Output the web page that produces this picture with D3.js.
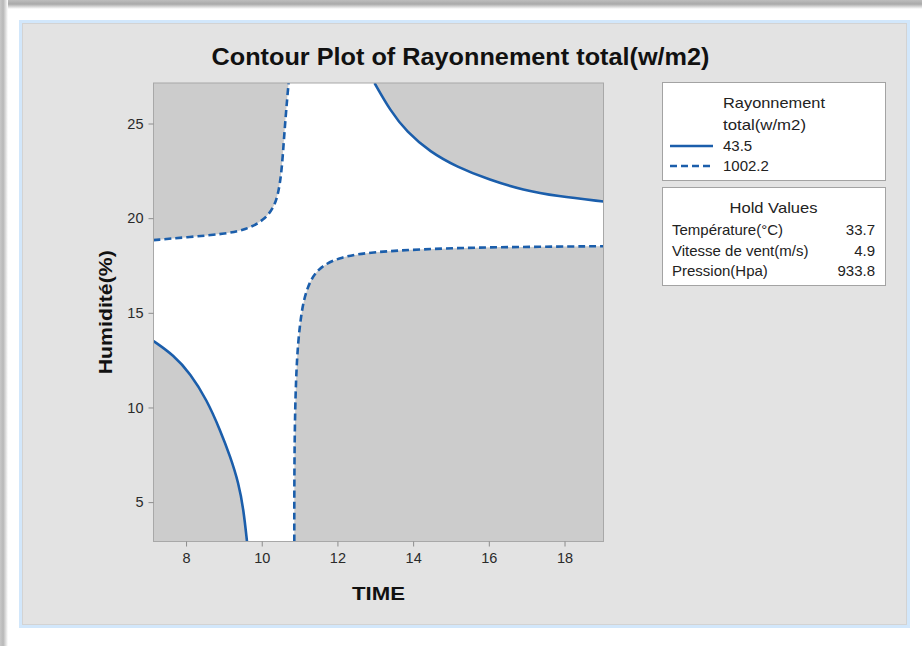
<!DOCTYPE html>
<html>
<head>
<meta charset="utf-8">
<script src="https://cdn.jsdelivr.net/npm/d3@7"></script>
<style>
  html, body { margin: 0; padding: 0; background: #ffffff; }
  svg { display: block; }
  text { font-family: "Liberation Sans", Arial, sans-serif; }
</style>
</head>
<body>
<svg id="chart" width="922" height="646"></svg>
<script>
// ---- data ----
const xTicks = [8, 10, 12, 14, 16, 18];
const yTicks = [5, 10, 15, 20, 25];
const xRange = [7.14, 19.03];   // TIME extent of the design region
const yRange = [2.92, 27.14];   // Humidité extent of the design region

const levels = ["43.5", "1002.2"];

// contour 43.5 (two branches)
const low43BottomLeft = [[7.14, 13.51], [7.67, 12.77], [8.11, 11.80], [8.55, 10.40], [8.90, 8.81],
  [9.17, 7.40], [9.39, 6.00], [9.52, 4.59], [9.61, 2.92]];
const low43TopRight = [[12.98, 27.14], [13.39, 25.70], [13.83, 24.55], [14.45, 23.50], [15.15, 22.71],
  [16.03, 22.01], [16.91, 21.48], [17.80, 21.16], [19.03, 20.88]];

// contour 1002.2 (two branches)
const high1002TopLeft = [[7.14, 18.84], [8.11, 19.01], [9.00, 19.16], [9.61, 19.40], [10.05, 19.89],
  [10.31, 20.51], [10.44, 21.30], [10.53, 22.53], [10.59, 24.29], [10.66, 26.05], [10.71, 27.14]];
const high1002BottomRight = [[10.86, 2.92], [10.86, 6.53], [10.88, 10.04], [10.93, 12.68], [11.00, 14.26],
  [11.10, 15.67], [11.28, 16.73], [11.54, 17.43], [12.07, 17.96], [12.95, 18.22], [14.27, 18.36],
  [15.59, 18.45], [17.35, 18.49], [19.03, 18.52]];

const holdNames = ["Température(°C)", "Vitesse de vent(m/s)", "Pression(Hpa)"];
const holdValues = ["33.7", "4.9", "933.8"];

// ---- layout ----
const svg = d3.select("#chart");
const plot = { left: 153.5, top: 83, right: 603.5, bottom: 541.5 };
const blue = "#1b5eab";
const shade = "#cccccc";

// window shadow on top and left edges
const defs = svg.append("defs");
const gTop = defs.append("linearGradient").attr("id", "shTop").attr("x1", 0).attr("y1", 0).attr("x2", 0).attr("y2", 1);
gTop.append("stop").attr("offset", "0%").attr("stop-color", "#bdbdbd");
gTop.append("stop").attr("offset", "45%").attr("stop-color", "#a9a9a9");
gTop.append("stop").attr("offset", "100%").attr("stop-color", "#ffffff");
const gLeft = defs.append("linearGradient").attr("id", "shLeft").attr("x1", 0).attr("y1", 0).attr("x2", 1).attr("y2", 0);
gLeft.append("stop").attr("offset", "0%").attr("stop-color", "#c8c8c8");
gLeft.append("stop").attr("offset", "40%").attr("stop-color", "#b8b8b8");
gLeft.append("stop").attr("offset", "100%").attr("stop-color", "#ffffff");
svg.append("rect").attr("x", 0).attr("y", 0).attr("width", 922).attr("height", 9).attr("fill", "url(#shTop)");
svg.append("rect").attr("x", 0).attr("y", 0).attr("width", 8).attr("height", 646).attr("fill", "url(#shLeft)");

// panel with light blue frame
svg.append("rect").attr("x", 20.5).attr("y", 21.5).attr("width", 888).attr("height", 605)
  .attr("fill", "none").attr("stroke", "#d2e7fb").attr("stroke-width", 3);
svg.append("rect").attr("x", 22.5).attr("y", 23.5).attr("width", 884).attr("height", 601)
  .attr("fill", "#e3e3e3").attr("stroke", "#d3d3d3").attr("stroke-width", 1);

// ---- scales ----
const x = d3.scaleLinear().domain(xRange).range([plot.left, plot.right]);
const y = d3.scaleLinear().domain(yRange).range([plot.bottom, plot.top]);

defs.append("clipPath").attr("id", "plotClip").append("rect")
  .attr("x", plot.left).attr("y", plot.top)
  .attr("width", plot.right - plot.left).attr("height", plot.bottom - plot.top);

const g = svg.append("g").attr("clip-path", "url(#plotClip)");
g.append("rect").attr("x", plot.left).attr("y", plot.top)
  .attr("width", plot.right - plot.left).attr("height", plot.bottom - plot.top)
  .attr("fill", "#ffffff");

const line = d3.line().x(d => x(d[0])).y(d => y(d[1])).curve(d3.curveBasis);

// shaded regions: each contour branch closed off through its plot corner
const regions = [
  { pts: low43BottomLeft, corner: [xRange[0], yRange[0]] },
  { pts: low43TopRight, corner: [xRange[1], yRange[1]] },
  { pts: high1002TopLeft, corner: [xRange[0], yRange[1]] },
  { pts: high1002BottomRight, corner: [xRange[1], yRange[0]] }
];
g.selectAll("path.region").data(regions).join("path")
  .attr("class", "region")
  .attr("d", r => line(r.pts) + "L" + x(r.corner[0]) + "," + y(r.corner[1]) + "Z")
  .attr("fill", shade);

const branches = [
  { pts: low43BottomLeft, dash: null },
  { pts: low43TopRight, dash: null },
  { pts: high1002TopLeft, dash: "7,4" },
  { pts: high1002BottomRight, dash: "7,4" }
];
g.selectAll("path.contour").data(branches).join("path")
  .attr("class", "contour")
  .attr("d", b => line(b.pts))
  .attr("fill", "none")
  .attr("stroke", blue)
  .attr("stroke-width", 2.6)
  .attr("stroke-dasharray", b => b.dash);

// plot frame
svg.append("rect").attr("x", plot.left).attr("y", plot.top)
  .attr("width", plot.right - plot.left).attr("height", plot.bottom - plot.top)
  .attr("fill", "none").attr("stroke", "#a8a8a8").attr("stroke-width", 1);

// ---- axes ----
const xAxis = svg.append("g").attr("transform", `translate(0,${plot.bottom})`)
  .call(d3.axisBottom(x).tickValues(xTicks).tickSize(5).tickPadding(6).tickFormat(d3.format("d")));
const yAxis = svg.append("g").attr("transform", `translate(${plot.left},0)`)
  .call(d3.axisLeft(y).tickValues(yTicks).tickSize(5).tickPadding(5).tickFormat(d3.format("d")));
[xAxis, yAxis].forEach(a => {
  a.select(".domain").remove();
  a.selectAll(".tick line").attr("stroke", "#8c8c8c");
  a.selectAll(".tick text").attr("fill", "#2a2a2a")
    .style("font-size", "14.5px").style("font-family", "'Liberation Sans', Arial, sans-serif");
});

// ---- titles ----
svg.append("text").attr("x", 460.5).attr("y", 64.5).attr("text-anchor", "middle")
  .attr("textLength", 498).attr("lengthAdjust", "spacingAndGlyphs")
  .style("font-size", "23.5px").style("font-weight", "bold").attr("fill", "#111")
  .text("Contour Plot of Rayonnement total(w/m2)");

svg.append("text").attr("x", (plot.left + plot.right) / 2).attr("y", 600)
  .attr("text-anchor", "middle")
  .attr("textLength", 53).attr("lengthAdjust", "spacingAndGlyphs")
  .style("font-size", "18.5px").style("font-weight", "bold").attr("fill", "#111")
  .text("TIME");

svg.append("text")
  .attr("transform", `translate(112,${(plot.top + plot.bottom) / 2}) rotate(-90)`)
  .attr("text-anchor", "middle")
  .attr("textLength", 124).attr("lengthAdjust", "spacingAndGlyphs")
  .style("font-size", "17.5px").style("font-weight", "bold").attr("fill", "#111")
  .text("Humidité(%)");

// ---- legend: contour levels ----
const lg = svg.append("g");
lg.append("rect").attr("x", 662.5).attr("y", 82.5).attr("width", 223).attr("height", 98)
  .attr("fill", "#ffffff").attr("stroke", "#a3a3a3");
const legendFont = "15px";
lg.append("text").attr("x", 723).attr("y", 108).style("font-size", legendFont).attr("fill", "#222")
  .attr("textLength", 102).attr("lengthAdjust", "spacingAndGlyphs").text("Rayonnement");
lg.append("text").attr("x", 723).attr("y", 130).style("font-size", legendFont).attr("fill", "#222")
  .attr("textLength", 83).attr("lengthAdjust", "spacingAndGlyphs").text("total(w/m2)");
levels.forEach((lv, i) => {
  const cy = 146 + i * 20;
  lg.append("line").attr("x1", 670).attr("x2", 713).attr("y1", cy).attr("y2", cy)
    .attr("stroke", blue).attr("stroke-width", 2.6)
    .attr("stroke-dasharray", i === 0 ? null : "7,4");
  lg.append("text").attr("x", 723).attr("y", cy + 5).style("font-size", legendFont)
    .attr("fill", "#222").text(lv);
});

// ---- legend: hold values ----
const hg = svg.append("g");
hg.append("rect").attr("x", 662.5).attr("y", 187.5).attr("width", 223).attr("height", 98)
  .attr("fill", "#ffffff").attr("stroke", "#a3a3a3");
hg.append("text").attr("x", 773.5).attr("y", 213).attr("text-anchor", "middle")
  .style("font-size", legendFont).attr("fill", "#222")
  .attr("textLength", 88).attr("lengthAdjust", "spacingAndGlyphs").text("Hold Values");
holdNames.forEach((nm, i) => {
  const by = 235 + i * 20.5;
  hg.append("text").attr("x", 672).attr("y", by).style("font-size", legendFont)
    .attr("fill", "#222").text(nm);
  hg.append("text").attr("x", 875).attr("y", by).attr("text-anchor", "end")
    .style("font-size", legendFont).attr("fill", "#222").text(holdValues[i]);
});
</script>
</body>
</html>
